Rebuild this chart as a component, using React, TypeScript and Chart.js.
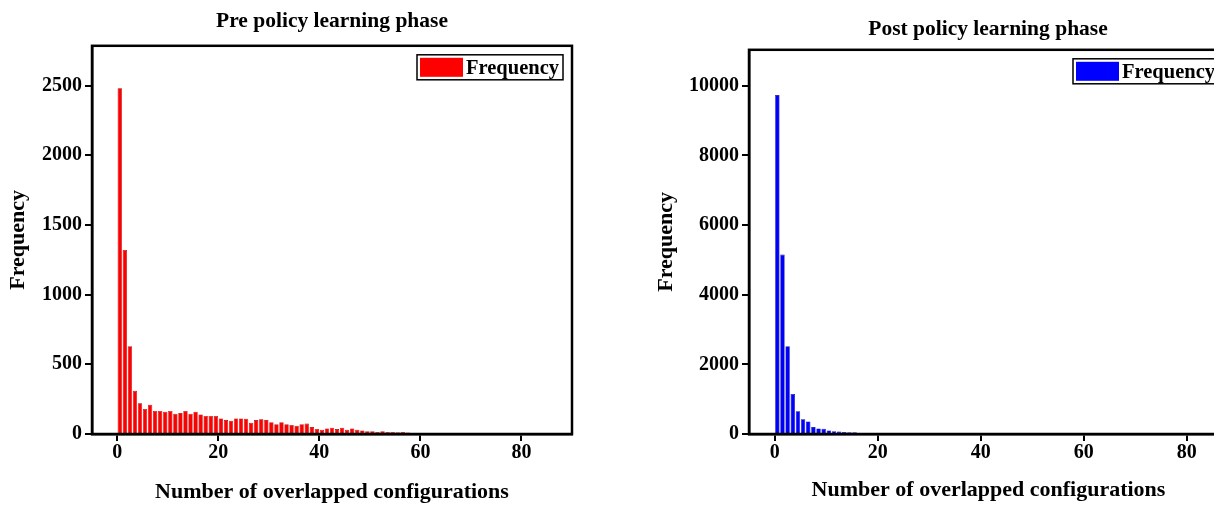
import React, { useEffect, useRef } from "react";
import { Chart, registerables } from "chart.js";

Chart.register(...registerables);

// ---------- data ----------
const preBins = [
  0, 1, 2, 3, 4, 5, 6, 7, 8, 9, 10, 11, 12, 13, 14, 15, 16, 17, 18, 19,
  20, 21, 22, 23, 24, 25, 26, 27, 28, 29, 30, 31, 32, 33, 34, 35, 36, 37, 38, 39,
  40, 41, 42, 43, 44, 45, 46, 47, 48, 49, 50, 51, 52, 53, 54, 55, 56, 57, 58,
];
const preFrequency = [
  2480, 1320, 630, 310, 220, 180, 210, 165, 165, 160, 165, 145, 150, 165, 145, 160, 140, 130, 130, 130,
  112, 100, 95, 112, 112, 110, 80, 100, 105, 100, 85, 70, 85, 70, 65, 60, 70, 75, 50, 36,
  30, 40, 45, 35, 45, 30, 40, 30, 25, 20, 20, 15, 20, 15, 15, 12, 15, 10, 5,
];
const postBins = [0, 1, 2, 3, 4, 5, 6, 7, 8, 9, 10, 11, 12, 13, 14, 15, 16, 17, 18, 19];
const postFrequency = [
  9730, 5150, 2520, 1150, 650, 420, 360, 200, 160, 150, 100, 80, 70, 60, 50, 50, 30, 20, 15, 10,
];

const preXTicks = [0, 20, 40, 60, 80];
const preYTicks = [0, 500, 1000, 1500, 2000, 2500];
const postXTicks = [0, 20, 40, 60, 80];
const postYTicks = [0, 2000, 4000, 6000, 8000, 10000];

const preTitle = "Pre policy learning phase";
const postTitle = "Post policy learning phase";
const xAxisTitle = "Number of overlapped configurations";
const yAxisTitle = "Frequency";
const seriesLabel = "Frequency";

// ---------- chart ----------
const FONT = "'Liberation Serif', 'Times New Roman', serif";

const boxPlugin = {
  id: "plotBox",
  afterDatasetsDraw(chart: any) {
    const { ctx, chartArea: a } = chart;
    ctx.save();
    ctx.strokeStyle = "#000";
    ctx.lineWidth = 2.5;
    ctx.strokeRect(a.left, a.top, a.right - a.left, a.bottom - a.top);
    ctx.restore();
  },
};

const legendPlugin = {
  id: "insideLegend",
  afterDraw(chart: any) {
    const { ctx, chartArea: a } = chart;
    const ds = chart.data.datasets[0];
    const w = 146;
    const h = 25;
    const x = a.right - 9 - w;
    const y = a.top + 9;
    ctx.save();
    ctx.fillStyle = "#fff";
    ctx.fillRect(x, y, w, h);
    ctx.strokeStyle = "#000";
    ctx.lineWidth = 1.5;
    ctx.strokeRect(x, y, w, h);
    ctx.fillStyle = ds.backgroundColor;
    ctx.fillRect(x + 3, y + 3, 43, h - 6);
    ctx.fillStyle = "#000";
    ctx.font = `bold 20.5px ${FONT}`;
    ctx.textBaseline = "middle";
    ctx.textAlign = "left";
    ctx.fillText(ds.label, x + 49, y + h / 2 + 1);
    ctx.restore();
  },
};

type Cfg = {
  left: number;
  width: number;
  bins: number[];
  freq: number[];
  xTicks: number[];
  yTicks: number[];
  xMax: number;
  yMax: number;
  title: string;
  titlePadTop: number;
  titlePadBottom: number;
  yWidth: number;
  rightPad: number;
  yTitlePad: number;
  xTitlePad: number;
  fill: string;
  edge: string;
};

function HistChart({ cfg }: { cfg: Cfg }) {
  const ref = useRef<HTMLCanvasElement>(null);
  useEffect(() => {
    const tickGrid = {
      display: true,
      drawOnChartArea: false,
      drawTicks: true,
      offset: false,
      tickLength: 7,
      color: "#000",
      lineWidth: 2,
    };
    const chart = new Chart(ref.current as HTMLCanvasElement, {
      type: "bar",
      data: {
        datasets: [
          {
            label: seriesLabel,
            data: cfg.bins.map((b, i) => ({ x: b + 0.5, y: cfg.freq[i] })),
            backgroundColor: cfg.fill,
            borderColor: cfg.edge,
            borderWidth: 0.6,
            barPercentage: 0.86,
            categoryPercentage: 1,
          } as any,
        ],
      },
      options: {
        responsive: false,
        animation: false,
        layout: { padding: 0 },
        font: { family: FONT },
        plugins: {
          legend: { display: false },
          tooltip: { enabled: false },
          title: {
            display: true,
            text: cfg.title,
            color: "#000",
            font: { family: FONT, size: 21.5, weight: "bold" },
            padding: { top: cfg.titlePadTop, bottom: cfg.titlePadBottom },
          },
        },
        scales: {
          x: {
            type: "linear",
            min: -5,
            max: cfg.xMax,
            offset: false,
            afterBuildTicks: (s: any) => {
              s.ticks = cfg.xTicks.map((v) => ({ value: v }));
            },
            afterFit: (s: any) => {
              s.height = 72;
            },
            grid: tickGrid,
            border: { display: true, color: "#000", width: 2.5 },
            ticks: {
              color: "#000",
              font: { family: FONT, size: 20, weight: "bold" },
              padding: 0,
              maxRotation: 0,
              autoSkip: false,
              callback: (v: any) => String(v),
            },
            title: {
              display: true,
              text: xAxisTitle,
              color: "#000",
              font: { family: FONT, size: 22, weight: "bold" },
              padding: { top: 0, bottom: cfg.xTitlePad },
            },
          },
          y: {
            min: 0,
            max: cfg.yMax,
            afterBuildTicks: (s: any) => {
              s.ticks = cfg.yTicks.map((v) => ({ value: v }));
            },
            afterFit: (s: any) => {
              s.width = cfg.yWidth;
            },
            grid: tickGrid,
            border: { display: true, color: "#000", width: 2.5 },
            ticks: {
              color: "#000",
              font: { family: FONT, size: 20, weight: "bold" },
              padding: 3,
              callback: (v: any) => String(v),
            },
            title: {
              display: true,
              text: yAxisTitle,
              color: "#000",
              font: { family: FONT, size: 22, weight: "bold" },
              padding: { top: cfg.yTitlePad, bottom: 0 },
            },
          },
          y2: {
            position: "right",
            display: true,
            grid: { display: false },
            border: { display: false },
            ticks: { display: false },
            afterFit: (s: any) => {
              s.width = cfg.rightPad;
            },
          },
        },
      } as any,
      plugins: [boxPlugin, legendPlugin],
    });
    return () => chart.destroy();
  }, []);
  return (
    <canvas
      ref={ref}
      width={cfg.width}
      height={506}
      style={{ position: "absolute", left: cfg.left, top: 0, width: cfg.width, height: 506 }}
    />
  );
}

const leftCfg: Cfg = {
  left: 0,
  width: 664,
  bins: preBins,
  freq: preFrequency,
  xTicks: preXTicks,
  yTicks: preYTicks,
  xMax: 90,
  yMax: 2785,
  title: preTitle,
  titlePadTop: 9,
  titlePadBottom: 11,
  yWidth: 92,
  rightPad: 92,
  yTitlePad: 5,
  xTitlePad: 0,
  fill: "#ff0000",
  edge: "#9a0000",
};

const rightCfg: Cfg = {
  left: 640,
  width: 696,
  bins: postBins,
  freq: postFrequency,
  xTicks: postXTicks,
  yTicks: postYTicks,
  xMax: 88,
  yMax: 11030,
  title: postTitle,
  titlePadTop: 17,
  titlePadBottom: 7,
  yWidth: 109,
  rightPad: 108,
  yTitlePad: 13,
  xTitlePad: 2,
  fill: "#0000ff",
  edge: "#00008a",
};

export default function App() {
  return (
    <div
      style={{
        position: "fixed",
        left: 0,
        top: 0,
        width: 1214,
        height: 506,
        overflow: "hidden",
        background: "#fff",
      }}
    >
      <HistChart cfg={leftCfg} />
      <HistChart cfg={rightCfg} />
    </div>
  );
}
